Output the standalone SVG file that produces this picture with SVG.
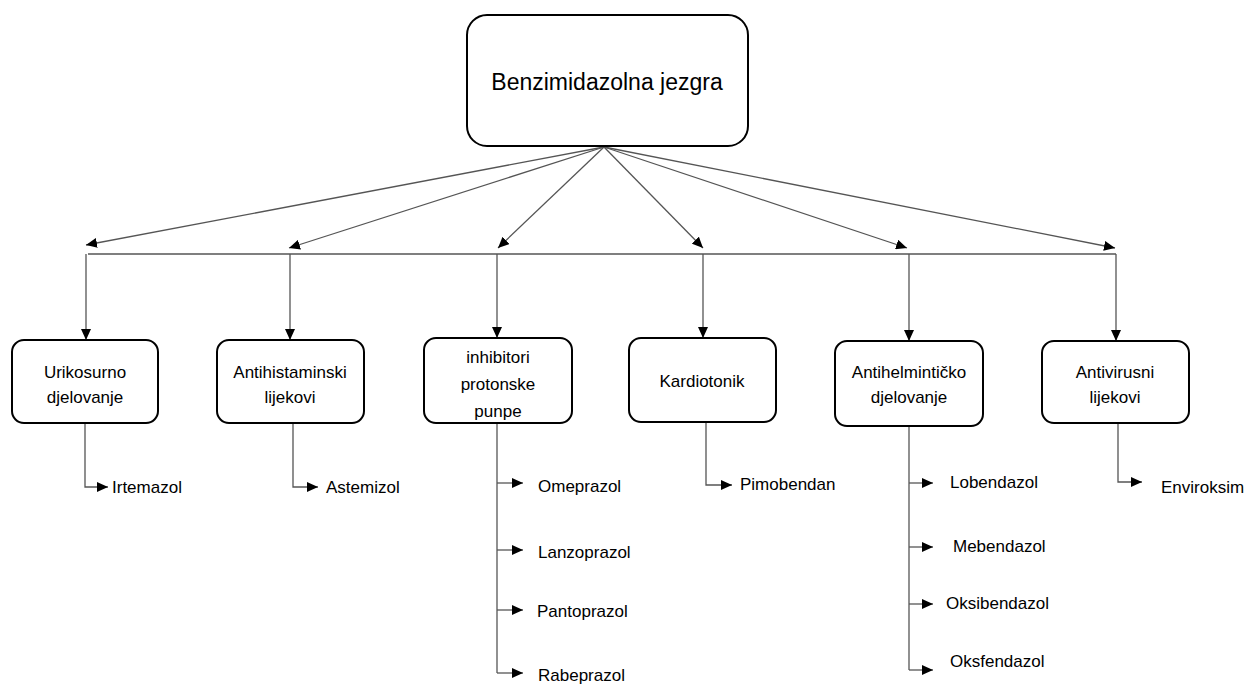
<svg xmlns="http://www.w3.org/2000/svg" width="1245" height="684" viewBox="0 0 1245 684">
<defs>
<marker id="ah" markerUnits="userSpaceOnUse" markerWidth="11" markerHeight="10" refX="11" refY="5" orient="auto">
<path d="M0,0 L11,5 L0,10 z" fill="#000"/>
</marker>
<style>
.box{fill:#fff;stroke:#000;stroke-width:2}
.t{font-family:"Liberation Sans",Arial,sans-serif;font-size:17px;fill:#000;text-anchor:middle}
.lt{font-family:"Liberation Sans",Arial,sans-serif;font-size:17px;fill:#000}
.c{fill:none;stroke:#555;stroke-width:1.3;marker-end:url(#ah)}
.n{fill:none;stroke:#555;stroke-width:1.3}
</style>
</defs>
<rect width="1245" height="684" fill="#fff"/>
<g id="connectors">
<path class="c" d="M604,147 L86,245"/>
<path class="c" d="M604,147 L289,248"/>
<path class="c" d="M604,147 L498,248"/>
<path class="c" d="M604,147 L703,248"/>
<path class="c" d="M604,147 L907,248"/>
<path class="c" d="M604,147 L1115,248"/>
<path class="n" d="M88,254 L1116,254"/>
<path class="c" d="M86,254 L86,340"/>
<path class="c" d="M290,254 L290,340"/>
<path class="c" d="M497,254 L497,338"/>
<path class="c" d="M703,254 L703,338"/>
<path class="c" d="M909,254 L909,341"/>
<path class="c" d="M1116,254 L1116,341"/>
<path class="c" d="M85,423 L85,487 L108,487"/>
<path class="c" d="M293,423 L293,487 L318,487"/>
<path class="n" d="M497,423 L497,673"/>
<path class="c" d="M497,483 L523,483"/>
<path class="c" d="M497,550 L523,550"/>
<path class="c" d="M497,610 L523,610"/>
<path class="c" d="M497,673 L523,673"/>
<path class="c" d="M706,422 L706,485 L732,485"/>
<path class="n" d="M909,426 L909,670"/>
<path class="c" d="M909,483 L933,483"/>
<path class="c" d="M909,547 L933,547"/>
<path class="c" d="M909,604 L933,604"/>
<path class="c" d="M909,670 L933,670"/>
<path class="c" d="M1118,423 L1118,482 L1142,482"/>
</g>
<g id="root">
<rect class="box" x="467" y="15" width="281" height="131" rx="20"/>
<text x="607" y="90" font-family="Liberation Sans,Arial,sans-serif" font-size="23" text-anchor="middle">Benzimidazolna jezgra</text>
</g>
<g id="n1">
<rect class="box" x="12" y="340" width="146" height="83" rx="12"/>
<text class="t" x="85" y="378">Urikosurno</text>
<text class="t" x="85" y="403">djelovanje</text>
</g>
<g id="n2">
<rect class="box" x="217" y="340" width="147" height="83" rx="12"/>
<text class="t" x="290" y="378">Antihistaminski</text>
<text class="t" x="290" y="403">lijekovi</text>
</g>
<g id="n3">
<rect class="box" x="424" y="338" width="148" height="85" rx="12"/>
<text class="t" x="498" y="363">inhibitori</text>
<text class="t" x="498" y="390">protonske</text>
<text class="t" x="498" y="417">punpe</text>
</g>
<g id="n4">
<rect class="box" x="629" y="338" width="147" height="84" rx="12"/>
<text class="t" x="702" y="387">Kardiotonik</text>
</g>
<g id="n5">
<rect class="box" x="835" y="341" width="148" height="85" rx="12"/>
<text class="t" x="909" y="378">Antihelmintičko</text>
<text class="t" x="909" y="403">djelovanje</text>
</g>
<g id="n6">
<rect class="box" x="1042" y="341" width="147" height="82" rx="12"/>
<text class="t" x="1115" y="378">Antivirusni</text>
<text class="t" x="1115" y="403">lijekovi</text>
</g>
<g id="leaves">
<text class="lt" x="112" y="493">Irtemazol</text>
<text class="lt" x="326" y="493">Astemizol</text>
<text class="lt" x="538" y="492">Omeprazol</text>
<text class="lt" x="538" y="558">Lanzoprazol</text>
<text class="lt" x="537" y="617">Pantoprazol</text>
<text class="lt" x="538" y="681">Rabeprazol</text>
<text class="lt" x="740" y="490">Pimobendan</text>
<text class="lt" x="950" y="488">Lobendazol</text>
<text class="lt" x="953" y="552">Mebendazol</text>
<text class="lt" x="946" y="609">Oksibendazol</text>
<text class="lt" x="950" y="667">Oksfendazol</text>
<text class="lt" x="1161" y="493">Enviroksim</text>
</g>
</svg>
